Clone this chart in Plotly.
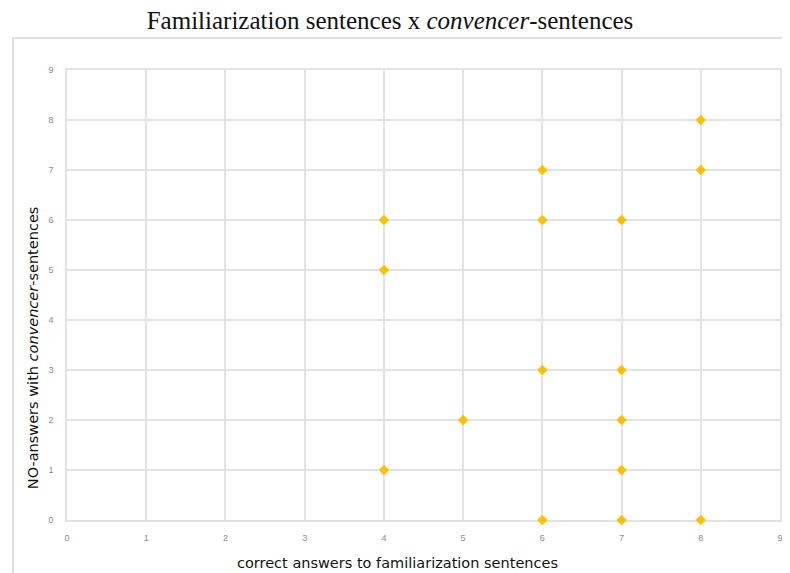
import plotly.graph_objects as go

x_correct = [4, 4, 4, 5, 6, 6, 6, 6, 7, 7, 7, 7, 7, 8, 8, 8]
y_no = [6, 5, 1, 2, 7, 6, 3, 0, 6, 3, 2, 1, 0, 8, 7, 0]
ticks = list(range(0, 10))

title_text = "Familiarization sentences x <i>convencer</i>-sentences"
xtitle = "correct answers to familiarization sentences"
ytitle = "NO-answers with <i>convencer</i>-sentences"

grid = "#e3e3e3"
fig = go.Figure()
fig.add_trace(go.Scatter(
    x=x_correct, y=y_no, mode="markers",
    marker=dict(symbol="diamond", size=8, color="#FFC000"),
    cliponaxis=False, showlegend=False,
))

axis_common = dict(
    tickvals=ticks, showgrid=True, gridcolor=grid, gridwidth=1.5,
    zeroline=False, showline=True, linecolor=grid, linewidth=1.5, mirror=True,
    layer="below traces",
    tickfont=dict(family="Liberation Sans", size=9, color="#8c8c8c"),
    fixedrange=True, automargin=False,
)
fig.update_xaxes(range=[0, 9], ticklabelstandoff=8, **axis_common)
fig.update_yaxes(range=[0, 9], ticklabelstandoff=10, **axis_common)

fig.update_layout(
    width=782, height=565,
    margin=dict(l=59, r=10, t=62, b=53, autoexpand=False),
    paper_bgcolor="white", plot_bgcolor="white",
    title=dict(text=title_text, x=0.4885, xanchor="center", y=0.979, yanchor="middle",
               font=dict(family="Liberation Serif", size=25, color="#111111")),
    shapes=[dict(type="rect", xref="paper", yref="paper",
                 x0=-0.0757, x1=1.05, y0=-0.2, y1=1.071,
                 line=dict(color="#e0e0e0", width=2), layer="below")],
    annotations=[
        dict(text=xtitle, xref="paper", yref="paper", x=0.463, y=-0.0956,
             xanchor="center", yanchor="middle", showarrow=False,
             font=dict(family="DejaVu Sans", size=14.5, color="#111111")),
        dict(text=ytitle, xref="paper", yref="paper", x=-0.0477, y=0.384,
             xanchor="center", yanchor="middle", showarrow=False, textangle=-90,
             font=dict(family="DejaVu Sans", size=14.5, color="#111111")),
    ],
)
fig.write_html("out.html")
